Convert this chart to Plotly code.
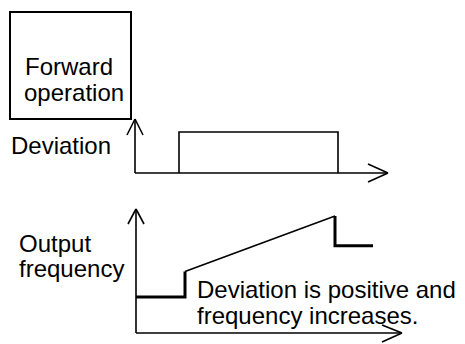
import plotly.graph_objects as go

# Waveform data (time axis units, value units)
deviation_t = [135, 179, 179, 338, 338, 388]
deviation_v = [0, 0, 1, 1, 0, 0]

freq_t_low = [136, 185, 185]
freq_v_low = [0.0, 0.0, 0.3]
freq_t_ramp = [185, 335]
freq_v_ramp = [0.3, 0.95]
freq_t_high = [335, 335, 373]
freq_v_high = [0.95, 0.6, 0.6]

labels = {
    "box": ["Forward", "operation"],
    "dev": "Deviation",
    "out": ["Output", "frequency"],
    "note": ["Deviation is positive and", "frequency increases."],
}

# mapping of value units to page coordinates
def dev_y(v):
    return 173 - v * (173 - 132)

def freq_y(v):
    return 297 - v * (297 - 216) / 0.95

FONT = dict(family="Liberation Sans, Arial, sans-serif", size=24, color="black")

fig = go.Figure()

fig.add_trace(go.Scatter(x=deviation_t[1:5], y=[dev_y(v) for v in deviation_v[1:5]],
                         mode="lines", line=dict(color="black", width=1.6),
                         hoverinfo="skip", showlegend=False))
fig.add_trace(go.Scatter(x=freq_t_low, y=[freq_y(v) for v in freq_v_low],
                         mode="lines", line=dict(color="black", width=3),
                         hoverinfo="skip", showlegend=False))
fig.add_trace(go.Scatter(x=freq_t_ramp, y=[freq_y(v) for v in freq_v_ramp],
                         mode="lines", line=dict(color="black", width=1.6),
                         hoverinfo="skip", showlegend=False))
fig.add_trace(go.Scatter(x=freq_t_high, y=[freq_y(v) for v in freq_v_high],
                         mode="lines", line=dict(color="black", width=3),
                         hoverinfo="skip", showlegend=False))

shapes = []
def line(x0, y0, x1, y1, w=1.6):
    shapes.append(dict(type="line", x0=x0, y0=y0, x1=x1, y1=y1,
                       line=dict(color="black", width=w), xref="x", yref="y"))

shapes.append(dict(type="rect", x0=10, y0=12, x1=131, y1=119,
                   line=dict(color="black", width=2), xref="x", yref="y"))

line(135, 119, 135, 173)
line(135, 173, 388, 173)
line(135, 119, 127, 135); line(135, 119, 143, 135)
line(388, 173, 368, 164); line(388, 173, 368, 182)

line(136, 209, 136, 333)
line(136, 333, 402, 333)
line(136, 209, 128, 224); line(136, 209, 144, 224)
line(402, 333, 382, 325); line(402, 333, 382, 342)

fig.update_layout(shapes=shapes)

ann = []
def text(x, y, s, anchor="left"):
    ann.append(dict(x=x, y=y, text=s, showarrow=False, xanchor=anchor, yanchor="middle",
                    font=FONT, xref="x", yref="y"))

text(23, 66, labels["box"][0])
text(22, 92, labels["box"][1])
text(9, 145, labels["dev"])
text(17, 243, labels["out"][0])
text(17, 268, labels["out"][1])
text(195, 289, labels["note"][0])
text(195, 315, labels["note"][1])
fig.update_layout(annotations=ann)

fig.update_layout(
    width=465, height=344,
    margin=dict(l=0, r=0, t=0, b=0),
    paper_bgcolor="white", plot_bgcolor="white",
    xaxis=dict(range=[0, 465], visible=False, fixedrange=True),
    yaxis=dict(range=[344, 0], visible=False, fixedrange=True),
)

fig.write_html("out.html", config={"displayModeBar": False},
               post_script="document.body.style.margin='0';document.body.style.overflow='hidden';")
